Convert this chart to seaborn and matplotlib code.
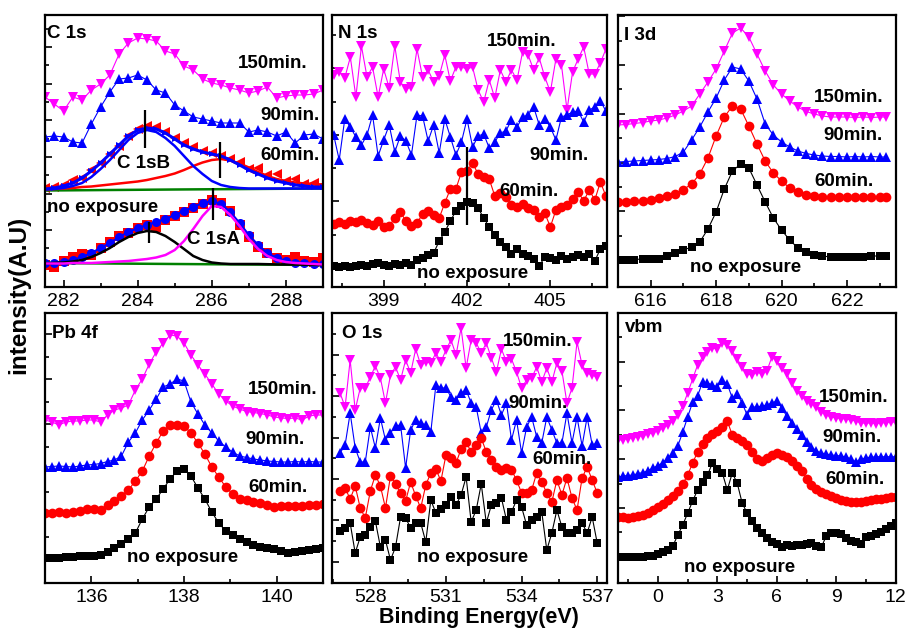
import numpy as np
import matplotlib
matplotlib.use("Agg")
import matplotlib.pyplot as plt
import seaborn as sns

# ---------------- C 1s ----------------
c1s_E = [281.5, 281.75, 282.0, 282.25, 282.5, 282.75, 283.0, 283.25, 283.5, 283.75, 284.0,
         284.25, 284.5, 284.75, 285.0, 285.25, 285.5, 285.75, 286.0, 286.25, 286.5, 286.75,
         287.0, 287.25, 287.5, 287.75, 288.0, 288.25, 288.5, 288.75, 289.0]
c1s_150 = [190, 183, 176, 190, 187, 197, 203, 212, 233, 244, 249, 248, 246, 236, 233, 221,
           217, 208, 204, 202, 199, 197, 194, 196, 200, 189, 191, 192, 192, 193, 197]
c1s_90 = [150, 151, 150, 145, 144, 163, 180, 195, 208, 209, 212, 207, 197, 194, 182, 176,
          170, 168, 166, 164, 164, 164, 155, 157, 155, 151, 155, 144, 152, 153, 148]
c1s_60 = [99, 100, 102, 107, 109, 117, 124, 133, 141, 151, 158, 161, 160, 155, 149, 144,
          140, 136, 134, 131, 128, 125, 118, 119, 112, 113, 106, 108, 103, 104, 102]
c1s_60_env = [98, 99, 101, 104, 109, 116, 124, 133, 142, 151, 157, 159, 158, 154, 148, 142,
              138, 135, 133, 131, 127, 122, 117, 113, 109, 106, 104, 102, 101, 100, 100]
c1s_60_B = [97.5, 98, 99, 101, 104, 110, 118, 127, 137, 147, 154, 157, 155, 149, 141, 131,
            121, 113, 106, 102, 100, 99, 98.5, 98.5, 98.5, 98.5, 98.5, 98.5, 98.5, 98.5, 98.5]
c1s_60_A = [97.5, 98, 98.5, 99, 100, 100.5, 101.5, 102.5, 103.5, 104.5, 105.5, 107, 109, 111,
            113.5, 117, 121, 124.5, 127, 128, 126.5, 123.5, 119.5, 115, 111, 108, 106, 104.5,
            103.5, 103, 102.5]
c1s_60_base_E = [281.5, 285.0, 289.0]
c1s_60_base = [96.5, 97.5, 98.5]
c1s_0 = [22, 20, 26, 30, 33, 32, 39, 45, 51, 54, 59, 62, 60, 67, 71, 75, 79, 83, 87, 84, 76,
         62, 50, 40, 34, 29, 27, 30, 26, 25, 29]
c1s_0_env = [24, 24.5, 25.5, 27, 30, 34, 39, 44, 50, 55, 59, 62, 65, 68, 72, 76, 80, 84, 86,
             83, 75, 64, 52, 42, 34, 29, 26, 24.5, 24, 23.5, 23]
c1s_0_B = [23.5, 24, 24.5, 25.5, 27, 30, 34, 39, 45, 50, 54, 56, 55, 51, 45, 38, 31, 27, 24.5,
           23.5, 23, 23, 23, 23, 22.8, 22.6, 22.5, 22.4, 22.3, 22.2, 22.1]
c1s_0_A = [23.5, 23.5, 23.5, 24, 24, 24, 24.5, 25, 25.5, 26, 27, 28, 29.5, 32, 37, 46, 58, 71,
           81, 80, 72, 61, 48, 38, 31, 27, 25, 24, 23.5, 23, 22.5]
c1s_0_base_E = [281.5, 285.0, 289.0]
c1s_0_base = [24, 23, 22]
c1s_mark_E = [284.2, 286.23, 284.31, 286.02]
c1s_mark_lo = [138.7, 108.7, 43.7, 67]
c1s_mark_hi = [177, 145.3, 65.3, 98.7]

# ---------------- N 1s ----------------
n1s_E = [397.2, 397.4, 397.6, 397.8, 398.0, 398.2, 398.4, 398.6, 398.8, 399.0, 399.2, 399.4,
         399.6, 399.8, 400.0, 400.2, 400.4, 400.6, 400.8, 401.0, 401.2, 401.4, 401.6, 401.8,
         402.0, 402.2, 402.4, 402.6, 402.8, 403.0, 403.2, 403.4, 403.6, 403.8, 404.0, 404.2,
         404.4, 404.6, 404.8, 405.0, 405.2, 405.4, 405.6, 405.8, 406.0, 406.2, 406.4, 406.6,
         406.8, 407.0]
n1s_0 = [21, 20, 21, 20, 21, 22, 21, 23, 24, 22, 21, 23, 22, 24, 22, 27, 29, 32, 34, 46, 55,
         66, 76, 81, 85, 84, 79, 69, 60, 52, 45, 40, 33, 38, 33, 31, 28, 21, 30, 29, 27, 31, 28,
         30, 32, 30, 33, 26, 38, 41]
n1s_60 = [63, 65, 63, 66, 65, 67, 64, 62, 66, 60, 61, 69, 75, 66, 61, 64, 73, 76, 72, 69, 84,
          98, 98, 115, 116, 124, 113, 110, 108, 91, 94, 90, 82, 80, 83, 79, 77, 70, 74, 60, 77,
          80, 82, 88, 95, 86, 97, 87, 105, 91]
n1s_90 = [152, 127, 168, 160, 150, 142, 152, 172, 131, 147, 162, 135, 151, 146, 132, 172,
          171, 146, 162, 134, 168, 150, 132, 145, 168, 140, 151, 153, 139, 145, 154, 156, 167,
          160, 170, 172, 180, 162, 168, 160, 147, 170, 172, 175, 176, 165, 177, 180, 186, 176]
n1s_150 = [212, 215, 209, 230, 190, 241, 210, 220, 190, 218, 199, 241, 205, 198, 200, 238,
           210, 217, 205, 211, 232, 206, 220, 220, 218, 220, 197, 185, 207, 189, 217, 205, 217,
           207, 235, 232, 217, 229, 210, 195, 228, 222, 177, 215, 228, 240, 213, 213, 224, 238]
n1s_mark_E = [402.0]
n1s_mark_lo = [62]
n1s_mark_hi = [140.3]

# ---------------- I 3d ----------------
i3d_E = [615.0, 615.25, 615.5, 615.75, 616.0, 616.25, 616.5, 616.75, 617.0, 617.25, 617.5,
         617.75, 618.0, 618.25, 618.5, 618.75, 619.0, 619.25, 619.5, 619.75, 620.0, 620.25,
         620.5, 620.75, 621.0, 621.25, 621.5, 621.75, 622.0, 622.25, 622.5, 622.75, 623.0,
         623.2]
i3d_0 = [27, 27, 27.5, 28, 28, 28.5, 31, 34, 37, 40, 45, 58, 75, 98, 116, 123, 119, 102, 85,
         69, 57, 47, 39, 35, 32.5, 31, 30, 30, 30.5, 30.5, 30.5, 31, 31, 31]
i3d_60 = [85, 85.5, 86, 86.5, 87.5, 89.5, 91, 93.5, 97.5, 103, 113, 129, 151, 170, 181, 178,
          161, 143, 126, 114, 106, 99, 95, 92, 91, 90.5, 90, 90.5, 90, 90.5, 90.5, 90, 90, 90.5]
i3d_90 = [125, 125.5, 126, 126.5, 127, 127.5, 128.5, 130.5, 135, 147, 160, 175, 189, 207, 220,
          218, 206, 188, 163, 152, 145, 140, 136, 133.5, 132, 131, 130.5, 130.5, 130, 130.5,
          130, 130.5, 130, 130]
i3d_150 = [162, 162.5, 163.5, 164.5, 166, 167, 169, 172, 176, 181, 193, 205, 218, 236, 254,
           259, 250, 233, 216, 202, 193, 186, 180, 175.5, 173, 171, 170, 170, 170, 169.5, 170,
           169.5, 170, 170]

# ---------------- Pb 4f ----------------
pb_E = [135.0, 135.15, 135.3, 135.45, 135.6, 135.75, 135.9, 136.05, 136.2, 136.35, 136.5,
        136.65, 136.8, 136.95, 137.1, 137.25, 137.4, 137.55, 137.7, 137.85, 138.0, 138.15,
        138.3, 138.45, 138.6, 138.75, 138.9, 139.05, 139.2, 139.35, 139.5, 139.65, 139.8,
        139.95, 140.1, 140.25, 140.4, 140.55, 140.7, 140.85, 141.0]
pb_0 = [25, 25, 25.5, 26, 26.5, 27, 27, 27.5, 28, 31, 35, 39, 44, 50, 64, 76, 84, 94, 104, 112,
        114, 107, 95, 84, 71, 60, 52, 48, 44, 41, 38, 36.5, 35, 34, 32, 30, 31, 32, 33, 34, 35]
pb_60 = [70, 70, 71, 70.5, 71.5, 72, 74.5, 74, 73.5, 78, 82, 87, 93, 102, 112, 127, 140, 152,
         158, 158, 157, 150, 140, 129, 116, 106, 96, 89, 84, 83, 81, 80, 78, 76.5, 77, 77, 77,
         77.5, 78, 78.5, 79]
pb_90 = [116, 116.5, 117, 116.5, 116, 117, 118, 118.5, 119.5, 121.5, 123, 127, 141, 150, 163,
         173, 184, 196, 199, 204, 202, 181, 169, 158, 150, 142, 136, 131, 127, 125.5, 124, 123,
         122, 121.5, 121, 121, 121.5, 121, 121.5, 121, 121]
pb_150 = [163, 161, 158, 161, 162, 162, 163, 163, 161, 168, 173, 175, 178, 193, 204, 219, 231,
          240, 248, 247, 240, 228, 218, 209, 199, 189, 182, 177, 174, 171.5, 170.5, 169.5, 168,
          166, 165, 164.5, 165, 163, 167, 168, 168]

# ---------------- O 1s ----------------
o1s_E = [526.8, 527.0, 527.2, 527.4, 527.6, 527.8, 528.0, 528.2, 528.4, 528.6, 528.8, 529.0,
         529.2, 529.4, 529.6, 529.8, 530.0, 530.2, 530.4, 530.6, 530.8, 531.0, 531.2, 531.4,
         531.6, 531.8, 532.0, 532.2, 532.4, 532.6, 532.8, 533.0, 533.2, 533.4, 533.6, 533.8,
         534.0, 534.2, 534.4, 534.6, 534.8, 535.0, 535.2, 535.4, 535.6, 535.8, 536.0, 536.2,
         536.4, 536.6, 536.8, 537.0]
o1s_0 = [52, 55, 60, 30, 46, 48, 56, 62, 36, 43, 23, 36, 66, 65, 55, 60, 60, 41, 83, 70, 74, 78,
         86, 78, 88, 106, 61, 73, 99, 60, 78, 80, 85, 63, 71, 83, 76, 58, 63, 66, 71, 33, 50, 73,
         56, 50, 50, 53, 60, 50, 66, 40]
o1s_60 = [92, 95, 84, 97, 75, 65, 92, 108, 97, 75, 107, 99, 90, 82, 101, 87, 75, 98, 110, 114,
          102, 128, 125, 120, 134, 141, 131, 138, 145, 131, 123, 116, 113, 115, 113, 103, 90, 90,
          93, 110, 101, 90, 81, 103, 88, 105, 85, 73, 105, 116, 103, 90]
o1s_90 = [130, 138, 170, 135, 121, 121, 156, 135, 165, 143, 150, 157, 158, 115, 153, 163, 160,
          158, 151, 198, 195, 195, 186, 183, 190, 193, 180, 176, 150, 156, 173, 183, 168, 180,
          143, 163, 130, 156, 166, 146, 140, 166, 153, 140, 140, 170, 140, 166, 137, 166, 138,
          140]
o1s_150 = [190, 176, 223, 173, 195, 195, 206, 217, 205, 180, 208, 216, 203, 223, 210, 234, 218,
           221, 220, 230, 221, 233, 243, 228, 255, 215, 243, 240, 230, 240, 225, 211, 234, 221,
           224, 211, 195, 203, 205, 216, 201, 215, 201, 220, 212, 180, 195, 241, 218, 210, 208,
           206]

# ---------------- vbm ----------------
vbm_E = [-2.0, -1.75, -1.5, -1.25, -1.0, -0.75, -0.5, -0.25, 0.0, 0.25, 0.5, 0.75, 1.0, 1.25,
         1.5, 1.75, 2.0, 2.25, 2.5, 2.75, 3.0, 3.25, 3.5, 3.75, 4.0, 4.25, 4.5, 4.75, 5.0,
         5.25, 5.5, 5.75, 6.0, 6.25, 6.5, 6.75, 7.0, 7.25, 7.5, 7.75, 8.0, 8.25, 8.5, 8.75,
         9.0, 9.25, 9.5, 9.75, 10.0, 10.25, 10.5, 10.75, 11.0, 11.25, 11.5, 11.75, 12.0]
vbm_0 = [26, 26, 26.5, 26, 26.5, 26, 27, 27.5, 29, 31.5, 33, 37, 48, 58, 70, 82, 93, 101, 108,
         120, 114, 110, 93, 110, 100, 80, 70, 62, 55, 50, 45, 41, 39, 36, 38, 37, 38, 38, 39, 40,
         37, 36, 47, 50, 50, 49, 45, 42, 41, 39, 46, 47, 49, 51, 54, 57, 60]
vbm_60 = [66, 66, 65.5, 66, 67, 68.5, 70.5, 73, 76, 79, 83, 87, 92, 99, 108, 120, 131, 139, 145,
          149, 152, 156, 162, 148, 145, 142, 138, 131, 124, 122, 125, 128, 130, 128, 126, 122,
          117, 112, 104, 98, 94, 91, 89, 87, 85, 83, 82, 81, 81, 81.5, 82.5, 83, 84, 84.5, 85,
          86, 86.5]
vbm_90 = [106, 107, 107.5, 108, 109.5, 110.5, 112.5, 115, 117.5, 120.5, 125, 130, 137, 151,
          166, 181, 187, 201, 200, 198, 196, 203, 199, 185, 189, 180, 168, 176, 176, 177, 178,
          180, 182, 175, 167, 160, 154, 148, 141, 136, 132, 130, 129, 128, 127.5, 127, 126, 124,
          121, 124, 125, 126, 126, 126.5, 126, 126.5, 126]
vbm_150 = [143, 143.5, 144.5, 145.5, 146.5, 147.5, 149, 150.5, 152.5, 155, 158, 162, 168, 177,
           190, 204, 218, 226, 231, 235, 234, 240, 238, 232, 224, 216, 209, 208, 211, 209, 212,
           226, 222, 215, 209, 200, 192, 187, 182, 179, 176, 171, 168, 166, 165, 164.5, 164,
           163, 162, 160, 160, 160, 159.5, 160, 160.5, 161, 161]

series_labels = ["no exposure", "60min.", "90min.", "150min."]

# ---------------- style ----------------
sns.set_style("ticks")
plt.rcParams["font.family"] = ["Liberation Sans", "DejaVu Sans"]
for key in ["text.color", "axes.labelcolor", "xtick.color", "ytick.color", "axes.edgecolor"]:
    plt.rcParams[key] = "black"
plt.rcParams["axes.linewidth"] = 1.6

BLACK, RED, BLUE, MAG, GREEN = "#000000", "#ff0000", "#0000ff", "#ff00ff", "#008000"
W, H = 908, 633
fig = plt.figure(figsize=(W / 100, H / 100), dpi=100)


def add_ax(x0, x1, y0, y1):
    return fig.add_axes([x0 / W, 1 - y1 / H, (x1 - x0) / W, (y1 - y0) / H])


def series(ax, x, y, color, marker, ms=6.5, lw=0.8):
    sns.lineplot(x=x, y=y, ax=ax, color=color, marker=marker, markersize=ms,
                 markeredgewidth=0, linewidth=lw, legend=False, errorbar=None)


def style_ax(ax, xlim, ylim, xmaj, xmin, y0, ystep):
    ax.set_xlim(*xlim)
    ax.set_ylim(*ylim)
    ax.set_xticks(xmaj)
    ax.set_xticks(xmin, minor=True)
    yt = np.arange(y0, ylim[1], ystep)
    ax.set_yticks(yt[::2])
    ax.set_yticks(yt[1::2], minor=True)
    ax.tick_params(axis="both", which="both", direction="in", top=False, right=False,
                   labelleft=False, width=1.2, colors="black")
    ax.tick_params(axis="both", which="major", length=5, labelsize=14, pad=4)
    ax.tick_params(axis="both", which="minor", length=3)
    ax.set_xlabel("")
    ax.set_ylabel("")
    for s in ax.spines.values():
        s.set_visible(True)
        s.set_color("black")
        s.set_linewidth(1.6)


FS = 13.5


def labels(ax, title, tpos, items):
    ax.text(tpos[0], tpos[1], title, fontsize=FS, fontweight="bold", ha="left", va="center",
            color="black")
    for txt, (x, y) in items:
        ax.text(x, y, txt, fontsize=FS, fontweight="bold", ha="left", va="center",
                color="black")


MS_T, MS_C, MS_S = 7.5, 7, 6

# Panel C 1s
ax1 = add_ax(45, 323, 15, 287)
series(ax1, c1s_E, c1s_150, MAG, "v", MS_T)
series(ax1, c1s_E, c1s_90, BLUE, "^", MS_T)
series(ax1, c1s_E, c1s_60, RED, "<", MS_T, 0)
sns.lineplot(x=c1s_60_base_E, y=c1s_60_base, ax=ax1, color=GREEN, linewidth=1.8, legend=False)
sns.lineplot(x=c1s_E, y=c1s_60_A, ax=ax1, color=RED, linewidth=1.8, legend=False)
sns.lineplot(x=c1s_E, y=c1s_60_B, ax=ax1, color=BLUE, linewidth=1.8, legend=False)
series(ax1, c1s_E, c1s_60_env, BLUE, ">", 4.5, 2.2)
series(ax1, c1s_E, c1s_0, RED, "s", MS_S + 0.5, 0)
series(ax1, c1s_E, c1s_0_env, BLUE, "o", MS_C - 0.5, 1.5)
sns.lineplot(x=c1s_0_base_E, y=c1s_0_base, ax=ax1, color=GREEN, linewidth=1.8, legend=False)
sns.lineplot(x=c1s_E, y=c1s_0_B, ax=ax1, color=BLACK, linewidth=1.8, legend=False)
sns.lineplot(x=c1s_E, y=c1s_0_A, ax=ax1, color=MAG, linewidth=1.8, legend=False)
ax1.vlines(c1s_mark_E, c1s_mark_lo, c1s_mark_hi, color=BLACK, linewidth=1.6)
style_ax(ax1, (281.5, 289.0), (0, 272), [282, 284, 286, 288], [283, 285, 287],
         20.3, 18.3)
labels(ax1, "C 1s", (281.55, 254), [("150min.", (286.69, 224)), ("90min.", (287.31, 172)),
                                     ("60min.", (287.31, 132)), ("C 1sB", (283.45, 124)),
                                     ("no exposure", (281.55, 79)), ("C 1sA", (285.34, 47))])

# Panel N 1s
ax2 = add_ax(332, 607.3, 15, 287)
series(ax2, n1s_E, n1s_150, MAG, "v", MS_T)
series(ax2, n1s_E, n1s_90, BLUE, "^", MS_T)
series(ax2, n1s_E, n1s_60, RED, "o", MS_C)
series(ax2, n1s_E, n1s_0, BLACK, "s", MS_S)
ax2.vlines(n1s_mark_E, n1s_mark_lo, n1s_mark_hi, color=BLACK, linewidth=1.6)
style_ax(ax2, (397.14, 407.05), (0, 272), [399, 402, 405], [397.5, 400.5, 403.5, 406.5],
         19, 33.3)
labels(ax2, "N 1s", (397.36, 254), [("150min.", (402.72, 245)), ("90min.", (404.26, 132)),
                                     ("60min.", (403.18, 95)), ("no exposure", (400.2, 14))])

# Panel I 3d
ax3 = add_ax(618, 896, 15, 287)
series(ax3, i3d_E, i3d_150, MAG, "v", MS_T)
series(ax3, i3d_E, i3d_90, BLUE, "^", MS_T)
series(ax3, i3d_E, i3d_60, RED, "o", MS_C)
series(ax3, i3d_E, i3d_0, BLACK, "s", MS_S)
style_ax(ax3, (615.0, 623.5), (0, 272), [616, 618, 620, 622], [617, 619, 621, 623],
         26.8, 24.4)
labels(ax3, "I 3d", (615.18, 252), [("150min.", (621.0, 189)), ("90min.", (621.28, 151)),
                                     ("60min.", (621.0, 105)), ("no exposure", (617.2, 19))])

# Panel Pb 4f
ax4 = add_ax(45, 323, 313, 583)
series(ax4, pb_E, pb_150, MAG, "v", MS_T)
series(ax4, pb_E, pb_90, BLUE, "^", MS_T)
series(ax4, pb_E, pb_60, RED, "o", MS_C)
series(ax4, pb_E, pb_0, BLACK, "s", MS_S)
style_ax(ax4, (135.0, 141.0), (0, 270), [136, 138, 140], [137, 139], 23, 22.6)
labels(ax4, "Pb 4f", (135.15, 250), [("150min.", (139.37, 193)), ("90min.", (139.33, 143)),
                                      ("60min.", (139.39, 96)), ("no exposure", (136.77, 25))])

# Panel O 1s
ax5 = add_ax(332, 607.3, 313, 583)
series(ax5, o1s_E, o1s_150, MAG, "v", MS_T)
series(ax5, o1s_E, o1s_90, BLUE, "^", MS_T)
series(ax5, o1s_E, o1s_60, RED, "o", MS_C)
series(ax5, o1s_E, o1s_0, BLACK, "s", MS_S)
style_ax(ax5, (526.48, 537.4), (0, 270), [528, 531, 534, 537], [526.5, 529.5, 532.5, 535.5],
         21.3, 20.7)
labels(ax5, "O 1s", (526.88, 250), [("150min.", (533.27, 241)), ("90min.", (533.46, 180)),
                                     ("60min.", (534.42, 123)), ("no exposure", (529.85, 25))])

# Panel vbm
ax6 = add_ax(618, 896, 313, 583)
series(ax6, vbm_E, vbm_150, MAG, "v", MS_T)
series(ax6, vbm_E, vbm_90, BLUE, "^", MS_T)
series(ax6, vbm_E, vbm_60, RED, "o", MS_C)
series(ax6, vbm_E, vbm_0, BLACK, "s", MS_S)
style_ax(ax6, (-2.02, 12.02), (0, 270), [0, 3, 6, 9, 12], [-1.5, 1.5, 4.5, 7.5, 10.5],
         26.3, 24.4)
labels(ax6, "vbm", (-1.67, 256), [("150min.", (8.13, 186)), ("90min.", (8.28, 145)),
                                   ("60min.", (8.43, 103)), ("no exposure", (1.31, 16))])

fig.text(478.7 / W, 1 - 617.7 / H, "Binding Energy(eV)", fontsize=15.5, fontweight="bold",
         ha="center", va="center", color="black")
fig.text(19 / W, 1 - 295 / H, "intensity(A.U)", fontsize=17.5, fontweight="bold",
         ha="center", va="center", rotation=90, color="black")

fig.savefig("out.png", dpi=100)
